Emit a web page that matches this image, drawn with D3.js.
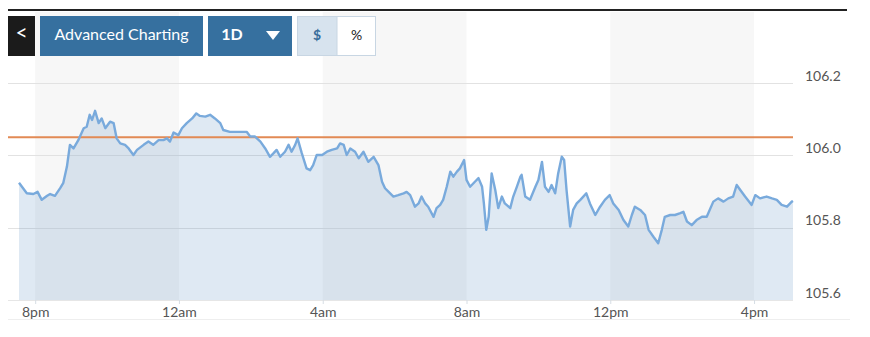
<!DOCTYPE html>
<meta charset="utf-8">
<style>
  body {
    margin: 0;
    background: #fff;
    font-family: Lato, sans-serif;
  }
  .axis text {
    font-family: Lato, sans-serif;
    font-size: 14px;
    fill: #555;
  }
  .btn text {
    font-family: Lato, sans-serif;
    fill: #fff;
    dominant-baseline: middle;
    text-anchor: middle;
  }
</style>
<body>
<script src="https://d3js.org/d3.v7.min.js"></script>
<script>
// minutes after 8pm of each sampled point
var minutes = [-27, -14, -3, 4, 11, 20, 25, 33, 42, 47, 53, 58, 64, 72, 81, 86, 91, 95, 100, 106,
  111, 117, 125, 131, 136, 142, 150, 156, 164, 170, 181, 189, 197, 206, 214, 220, 225, 231, 239, 245,
  253, 262, 269, 275, 284, 292, 300, 309, 314, 325, 337, 353, 359, 367, 376, 384, 392, 398, 403, 409,
  417, 423, 428, 434, 438, 445, 453, 459, 464, 470, 479, 487, 495, 504, 509, 515, 520, 526, 534, 540,
  548, 556, 565, 573, 579, 584, 590, 598, 606, 615, 620, 626, 634, 640, 645, 651, 656, 665, 670, 676,
  681, 687, 693, 698, 704, 709, 716, 720, 726, 734, 740, 746, 749, 753, 757, 762, 768, 773, 779, 784,
  793, 798, 804, 810, 812, 818, 826, 835, 840, 846, 851, 857, 862, 868, 873, 879, 883, 887, 893, 898,
  904, 910, 915, 920, 926, 935, 943, 951, 959, 965, 974, 982, 990, 996, 1001, 1010, 1018, 1024, 1032, 1040,
  1046, 1051, 1060, 1068, 1077, 1082, 1088, 1096, 1104, 1113, 1121, 1132, 1140, 1149, 1157, 1165, 1171, 1177, 1185, 1196,
  1202, 1210, 1221, 1230, 1238, 1246, 1255, 1263, 1265];

var prices = [105.924, 105.895, 105.893, 105.899, 105.877, 105.888, 105.893, 105.888, 105.910, 105.924,
  105.969, 106.029, 106.019, 106.042, 106.075, 106.079, 106.112, 106.098, 106.123, 106.089,
  106.102, 106.075, 106.093, 106.089, 106.047, 106.033, 106.029, 106.019, 106.001, 106.015,
  106.029, 106.038, 106.029, 106.042, 106.042, 106.047, 106.038, 106.063, 106.056, 106.075,
  106.089, 106.102, 106.116, 106.109, 106.107, 106.112, 106.102, 106.089, 106.070, 106.065,
  106.065, 106.065, 106.052, 106.052, 106.038, 106.019, 105.996, 106.006, 106.015, 105.996,
  106.010, 106.029, 106.010, 106.029, 106.047, 106.006, 105.964, 105.959, 105.973, 106.001,
  106.001, 106.010, 106.015, 106.019, 106.033, 106.029, 106.001, 106.019, 106.010, 105.992,
  106.010, 105.982, 105.996, 105.973, 105.927, 105.909, 105.899, 105.886, 105.890, 105.895,
  105.899, 105.890, 105.858, 105.867, 105.886, 105.867, 105.858, 105.830, 105.854, 105.863,
  105.877, 105.913, 105.955, 105.941, 105.955, 105.964, 105.987, 105.932, 105.913, 105.927,
  105.937, 105.913, 105.867, 105.794, 105.830, 105.950, 105.904, 105.854, 105.886, 105.867,
  105.854, 105.886, 105.913, 105.941, 105.946, 105.886, 105.877, 105.913, 105.932, 105.982,
  105.913, 105.899, 105.918, 105.895, 105.950, 105.996, 105.987, 105.904, 105.803, 105.849,
  105.867, 105.877, 105.886, 105.895, 105.867, 105.835, 105.858, 105.877, 105.890, 105.867,
  105.849, 105.821, 105.803, 105.835, 105.858, 105.849, 105.835, 105.794, 105.775, 105.757,
  105.794, 105.830, 105.835, 105.835, 105.840, 105.844, 105.817, 105.807, 105.821, 105.830,
  105.830, 105.872, 105.881, 105.872, 105.881, 105.886, 105.918, 105.904, 105.886, 105.863,
  105.890, 105.881, 105.886, 105.881, 105.877, 105.863, 105.858, 105.872, 105.874];

var yTicks = [105.6, 105.8, 106.0, 106.2];
var prevClose = 106.05;
var buttons = ["<", "Advanced Charting", "1D", "$", "%"];

var width = 870, height = 337;
var start = new Date(2024, 0, 1, 20, 0);
var data = minutes.map(function(m, i) {
  return { date: new Date(start.getTime() + m * 60000), value: prices[i] };
});

var svg = d3.select("body").append("svg")
  .attr("width", width)
  .attr("height", height);

var x = d3.scaleTime()
  .domain(d3.extent(data, d => d.date))
  .range([19, 793]);

var y = d3.scaleLinear()
  .domain([105.6, 106.2])
  .range([300, 83]);

var xTicks = x.ticks(d3.timeHour.every(4));

// alternating shaded bands
for (var i = 0; i + 1 < xTicks.length; i += 2) {
  svg.append("rect")
    .attr("x", x(xTicks[i]))
    .attr("y", 12)
    .attr("width", x(xTicks[i + 1]) - x(xTicks[i]))
    .attr("height", y(105.6) - 12)
    .attr("fill", "#f7f7f7");
}

// top rule and bottom rule
svg.append("line").attr("x1", 8).attr("x2", 847).attr("y1", 10).attr("y2", 10)
  .attr("stroke", "#222").attr("stroke-width", 2);
svg.append("line").attr("x1", 8).attr("x2", 850).attr("y1", 319.5).attr("y2", 319.5)
  .attr("stroke", "#eeeeee");

// gridlines
svg.selectAll(".grid").data(yTicks).join("line")
  .attr("class", "grid")
  .attr("x1", 8).attr("x2", 793)
  .attr("y1", d => Math.round(y(d)) + 0.5)
  .attr("y2", d => Math.round(y(d)) + 0.5)
  .attr("stroke", "#e2e2e2");

var area = d3.area()
  .x(d => x(d.date))
  .y0(y(105.6))
  .y1(d => y(d.value));

var line = d3.line()
  .x(d => x(d.date))
  .y(d => y(d.value));

svg.append("path").datum(data)
  .attr("d", area)
  .attr("fill", "#5f93c2")
  .attr("fill-opacity", 0.2);

svg.append("line")
  .attr("x1", 8).attr("x2", 793)
  .attr("y1", y(prevClose)).attr("y2", y(prevClose))
  .attr("stroke", "#e28a55").attr("stroke-width", 1.8);

svg.append("path").datum(data)
  .attr("d", line)
  .attr("fill", "none")
  .attr("stroke", "#79aadc")
  .attr("stroke-width", 2.4)
  .attr("stroke-linejoin", "round");

// x axis
var xAxis = svg.append("g")
  .attr("class", "axis")
  .attr("transform", "translate(0,300)")
  .call(d3.axisBottom(x)
    .tickValues(xTicks)
    .tickSize(4)
    .tickPadding(3)
    .tickSizeOuter(0)
    .tickFormat(d => d3.timeFormat("%-I%p")(d).toLowerCase()));
xAxis.select(".domain").remove();
xAxis.selectAll(".tick line").attr("stroke", "#d6dde4");
xAxis.insert("line", ":first-child")
  .attr("x1", 8).attr("x2", 793).attr("y1", 0.5).attr("y2", 0.5)
  .attr("stroke", "#e6e6e6");

// y axis labels
var yAxis = svg.append("g")
  .attr("class", "axis")
  .attr("transform", "translate(805,0)")
  .call(d3.axisRight(y)
    .tickValues(yTicks)
    .tickSize(0)
    .tickPadding(0)
    .tickFormat(d3.format(".1f")));
yAxis.select(".domain").remove();
yAxis.selectAll(".tick text").attr("dy", "-0.2em");

// toolbar buttons
var bar = svg.append("g").attr("class", "btn");
bar.append("rect").attr("x", 8).attr("y", 16).attr("width", 27).attr("height", 40).attr("fill", "#1b1b1b");
bar.append("text").attr("x", 21.5).attr("y", 35).attr("font-size", 21).text(buttons[0]);

bar.append("rect").attr("x", 40).attr("y", 16).attr("width", 163).attr("height", 40).attr("fill", "#36709f");
bar.append("text").attr("x", 121.5).attr("y", 36).attr("font-size", 16).text(buttons[1]);

bar.append("rect").attr("x", 208).attr("y", 16).attr("width", 84).attr("height", 40).attr("fill", "#36709f");
bar.append("text").attr("x", 232).attr("y", 36).attr("font-size", 16).attr("font-weight", "bold").text(buttons[2]);
bar.append("path").attr("d", "M266,31 L280,31 L273,40 Z").attr("fill", "#fff");

bar.append("rect").attr("x", 297.5).attr("y", 16.5).attr("width", 78).attr("height", 39)
  .attr("fill", "#fff").attr("stroke", "#c8d6e3");
bar.append("rect").attr("x", 297.5).attr("y", 16.5).attr("width", 39.5).attr("height", 39)
  .attr("fill", "#d7e3ee").attr("stroke", "#c8d6e3");
bar.append("text").attr("x", 317).attr("y", 36).attr("font-size", 14).attr("font-weight", "bold")
  .style("fill", "#3a6e9c").text(buttons[3]);
bar.append("text").attr("x", 356.5).attr("y", 36).attr("font-size", 14)
  .style("fill", "#222").text(buttons[4]);
</script>
</body>
